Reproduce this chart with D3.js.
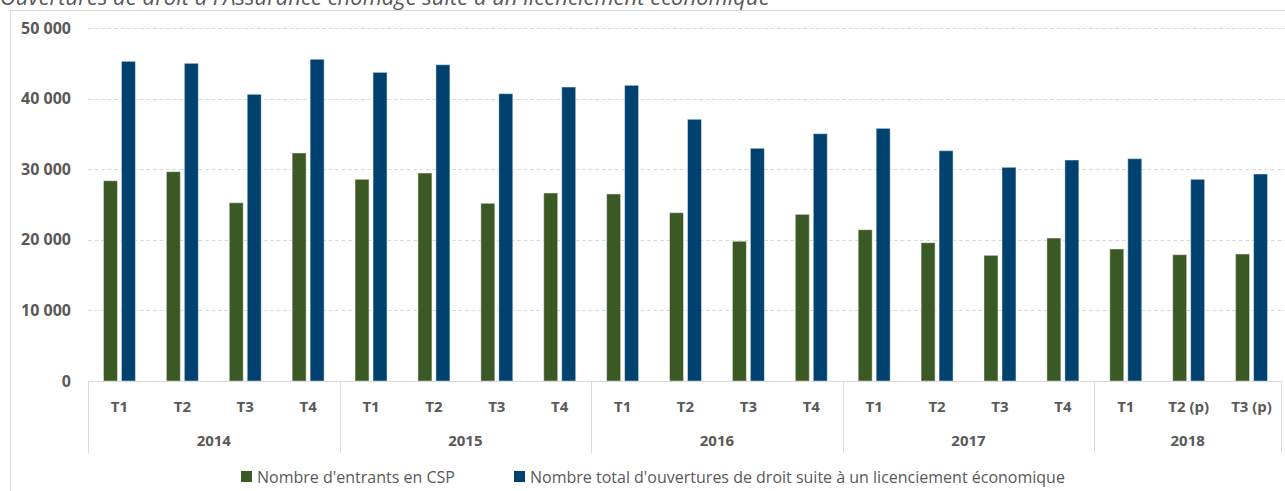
<!DOCTYPE html>
<html>
<head>
<meta charset="utf-8">
<script src="https://d3js.org/d3.v7.min.js"></script>
<style>
  body { margin: 0; background: #fff; }
  text { font-family: "Open Sans", sans-serif; fill: #595959; }
</style>
</head>
<body>
<div id="chart"></div>
<script>
// Data
const quarters = ["T1", "T2", "T3", "T4", "T1", "T2", "T3", "T4", "T1", "T2", "T3", "T4",
                  "T1", "T2", "T3", "T4", "T1", "T2 (p)", "T3 (p)"];
const years = ["2014", "2015", "2016", "2017", "2018"];
const quarterYear = ["2014", "2014", "2014", "2014", "2015", "2015", "2015", "2015",
                     "2016", "2016", "2016", "2016", "2017", "2017", "2017", "2017",
                     "2018", "2018", "2018"];
const entrantsCSP = [28370, 29650, 25250, 32300, 28570, 29460, 25170, 26630,
                     26490, 23840, 19790, 23610, 21430, 19590, 17800, 20250,
                     18700, 17890, 17990];
const totalOuvertures = [45280, 45000, 40610, 45570, 43720, 44800, 40700, 41640,
                         41880, 37070, 32960, 35030, 35790, 32620, 30270, 31300,
                         31490, 28570, 29320];
const seriesNames = ["Nombre d'entrants en CSP",
                     "Nombre total d'ouvertures de droit suite à un licenciement économique"];
const yTicks = [0, 10000, 20000, 30000, 40000, 50000];
const title = "Ouvertures de droit à l'Assurance chômage suite à un licenciement économique";

const colors = ["#3b5925", "#00426f"];

// Dimensions
const W = 1285, H = 491;
const margin = { top: 28, right: 2, bottom: 110, left: 88 };
const width = W - margin.left - margin.right;
const height = H - margin.top - margin.bottom;

const root = d3.select("#chart")
    .append("svg")
    .attr("width", W)
    .attr("height", H);

// Chart frame
root.append("rect")
    .attr("x", 10.5).attr("y", 10.5)
    .attr("width", W + 10).attr("height", H + 10)
    .attr("fill", "none")
    .attr("stroke", "#d9d9d9");

// Title (clipped at the top, as in the source)
root.append("text")
    .attr("x", 0)
    .attr("y", 5)
    .style("font-style", "italic")
    .style("font-size", "22px")
    .text(title);

const svg = root.append("g")
    .attr("transform", `translate(${margin.left},${margin.top})`);

// Scales
const idx = quarters.map((d, i) => i);
const x0 = d3.scaleBand()
    .domain(idx)
    .range([0, width]);

const x1 = d3.scaleBand()
    .domain([0, 1])
    .range([0, x0.bandwidth()])
    .paddingInner(0.222)
    .paddingOuter(0.86);

const y = d3.scaleLinear()
    .domain([0, 50000])
    .range([height, 0]);

const fr = d3.formatLocale({ decimal: ",", thousands: "\u00a0", grouping: [3], currency: ["", " €"] });
const fmt = fr.format(",d");

// Gridlines
svg.selectAll(".grid")
    .data(yTicks.filter(d => d > 0))
    .enter()
    .append("line")
    .attr("x1", 0)
    .attr("x2", width + margin.right)
    .attr("y1", d => Math.round(y(d)) + 0.5)
    .attr("y2", d => Math.round(y(d)) + 0.5)
    .attr("stroke", "#d9d9d9")
    .attr("stroke-dasharray", "4,2.5");

// Y labels
svg.selectAll(".ylab")
    .data(yTicks)
    .enter()
    .append("text")
    .attr("x", -17)
    .attr("y", d => y(d))
    .attr("dy", "0.35em")
    .attr("text-anchor", "end")
    .style("font-size", "16px")
    .style("font-weight", "bold")
    .text(d => fmt(d));

// Bars
const rows = idx.map(i => ({ i, values: [entrantsCSP[i], totalOuvertures[i]] }));
const groups = svg.selectAll(".bar-group")
    .data(rows)
    .enter()
    .append("g")
    .attr("transform", d => `translate(${x0(d.i)},0)`);

groups.selectAll("rect")
    .data(d => d.values.map((v, s) => ({ v, s })))
    .enter()
    .append("rect")
    .attr("x", d => x1(d.s))
    .attr("y", d => y(d.v))
    .attr("width", x1.bandwidth())
    .attr("height", d => height - y(d.v))
    .attr("fill", d => colors[d.s])
    .attr("stroke", "#ffffff")
    .attr("stroke-opacity", 0.45)
    .attr("stroke-width", 1);

// Category axis line
svg.append("line")
    .attr("x1", 0).attr("x2", width - 2)
    .attr("y1", height + 0.5).attr("y2", height + 0.5)
    .attr("stroke", "#d9d9d9");

// Year separators
const yearStart = years.map(yr => quarterYear.indexOf(yr));
const bounds = yearStart.map(i => x0(i)).concat([x0(quarters.length - 1) + x0.bandwidth() - 2]);
svg.selectAll(".sep")
    .data(bounds)
    .enter()
    .append("line")
    .attr("x1", d => Math.round(d) + 0.5)
    .attr("x2", d => Math.round(d) + 0.5)
    .attr("y1", height)
    .attr("y2", height + 72)
    .attr("stroke", "#d9d9d9");

// Quarter labels
svg.selectAll(".qlab")
    .data(idx)
    .enter()
    .append("text")
    .attr("x", d => x0(d) + x0.bandwidth() / 2)
    .attr("y", height + 26)
    .attr("dy", "0.35em")
    .attr("text-anchor", "middle")
    .style("font-size", "15px")
    .style("font-weight", "bold")
    .text(d => quarters[d]);

// Year labels
svg.selectAll(".ylabel")
    .data(years)
    .enter()
    .append("text")
    .attr("x", (d, k) => (bounds[k] + bounds[k + 1]) / 2)
    .attr("y", height + 60)
    .attr("dy", "0.35em")
    .attr("text-anchor", "middle")
    .style("font-size", "15px")
    .style("font-weight", "bold")
    .text(d => d);

// Legend
const legendX = [241, 514];
const legend = root.append("g")
    .attr("transform", `translate(0, 471)`);

seriesNames.forEach((name, i) => {
    legend.append("rect")
        .attr("x", legendX[i])
        .attr("y", 0)
        .attr("width", 11)
        .attr("height", 11)
        .attr("fill", colors[i]);

    legend.append("text")
        .attr("x", legendX[i] + 16)
        .attr("y", 6)
        .attr("dy", "0.35em")
        .style("font-size", "16px")
        .text(name);
});
</script>
</body>
</html>
